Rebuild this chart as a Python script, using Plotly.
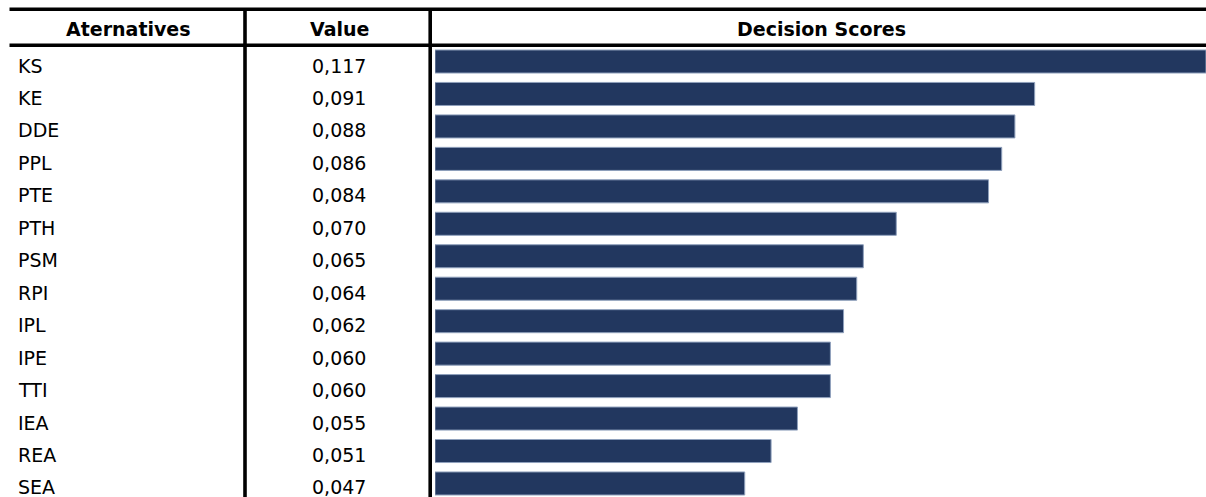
import plotly.graph_objects as go

# Alternatives and their decision scores
alternatives = ["KS", "KE", "DDE", "PPL", "PTE", "PTH", "PSM", "RPI",
                "IPL", "IPE", "TTI", "IEA", "REA", "SEA"]
scores = [0.117, 0.091, 0.088, 0.086, 0.084, 0.070, 0.065, 0.064,
          0.062, 0.060, 0.060, 0.055, 0.051, 0.047]
headers = ["Aternatives", "Value", "Decision Scores"]

W, H = 1206, 497
FONT = "DejaVu Sans"
BAR_COLOR = "#22375F"

fig = go.Figure()
fig.add_trace(go.Bar(
    x=scores, y=alternatives, orientation="h",
    marker=dict(color=BAR_COLOR, line=dict(color="#8FA0BC", width=1)),
    width=0.71, hoverinfo="x+y",
))

# pixel -> paper helpers for the table frame
def px(x):
    return x / W

def py(y):
    return 1 - y / H

# row pitch and first row centre (pixels from top)
pitch = 32.46
first = 61.5
y_top = -first / pitch
y_bot = (H - first) / pitch

ann = []
for name, v in zip(alternatives, scores):
    ann.append(dict(x=px(16), y=name, xref="paper", yref="y", text=name,
                    xanchor="left", yanchor="middle", showarrow=False, yshift=-4,
                    font=dict(family=FONT, size=19, color="black")))
    ann.append(dict(x=px(339), y=name, xref="paper", yref="y",
                    text=f"{v:.3f}".replace(".", ","),
                    xanchor="center", yanchor="middle", showarrow=False, yshift=-4,
                    font=dict(family=FONT, size=19, color="black")))

for text, cx in zip(headers, [128, 339, 821]):
    ann.append(dict(x=px(cx), y=py(29), xref="paper", yref="paper",
                    text=f"<b>{text}</b>", xanchor="center", yanchor="middle",
                    showarrow=False,
                    font=dict(family=FONT, size=19, color="black")))

line = dict(color="black", width=3.6)
shapes = [
    dict(type="line", xref="paper", yref="paper", x0=px(9.5), x1=1.0,
         y0=py(9.3), y1=py(9.3), line=line),
    dict(type="line", xref="paper", yref="paper", x0=px(9.5), x1=1.0,
         y0=py(45.3), y1=py(45.3), line=line),
    dict(type="line", xref="paper", yref="paper", x0=px(245), x1=px(245),
         y0=py(9.3), y1=0, line=line),
    dict(type="line", xref="paper", yref="paper", x0=px(430.2), x1=px(430.2),
         y0=py(9.3), y1=0, line=line),
]

fig.update_layout(
    width=W, height=H,
    margin=dict(l=0, r=0, t=0, b=0),
    paper_bgcolor="white", plot_bgcolor="white",
    showlegend=False,
    xaxis=dict(domain=[px(435), 1.0], range=[0, 0.117], visible=False,
               fixedrange=True),
    yaxis=dict(domain=[0, 1], range=[y_bot, y_top], visible=False,
               categoryorder="array", categoryarray=alternatives,
               fixedrange=True),
    annotations=ann,
    shapes=shapes,
)

fig.write_html("out.html")
